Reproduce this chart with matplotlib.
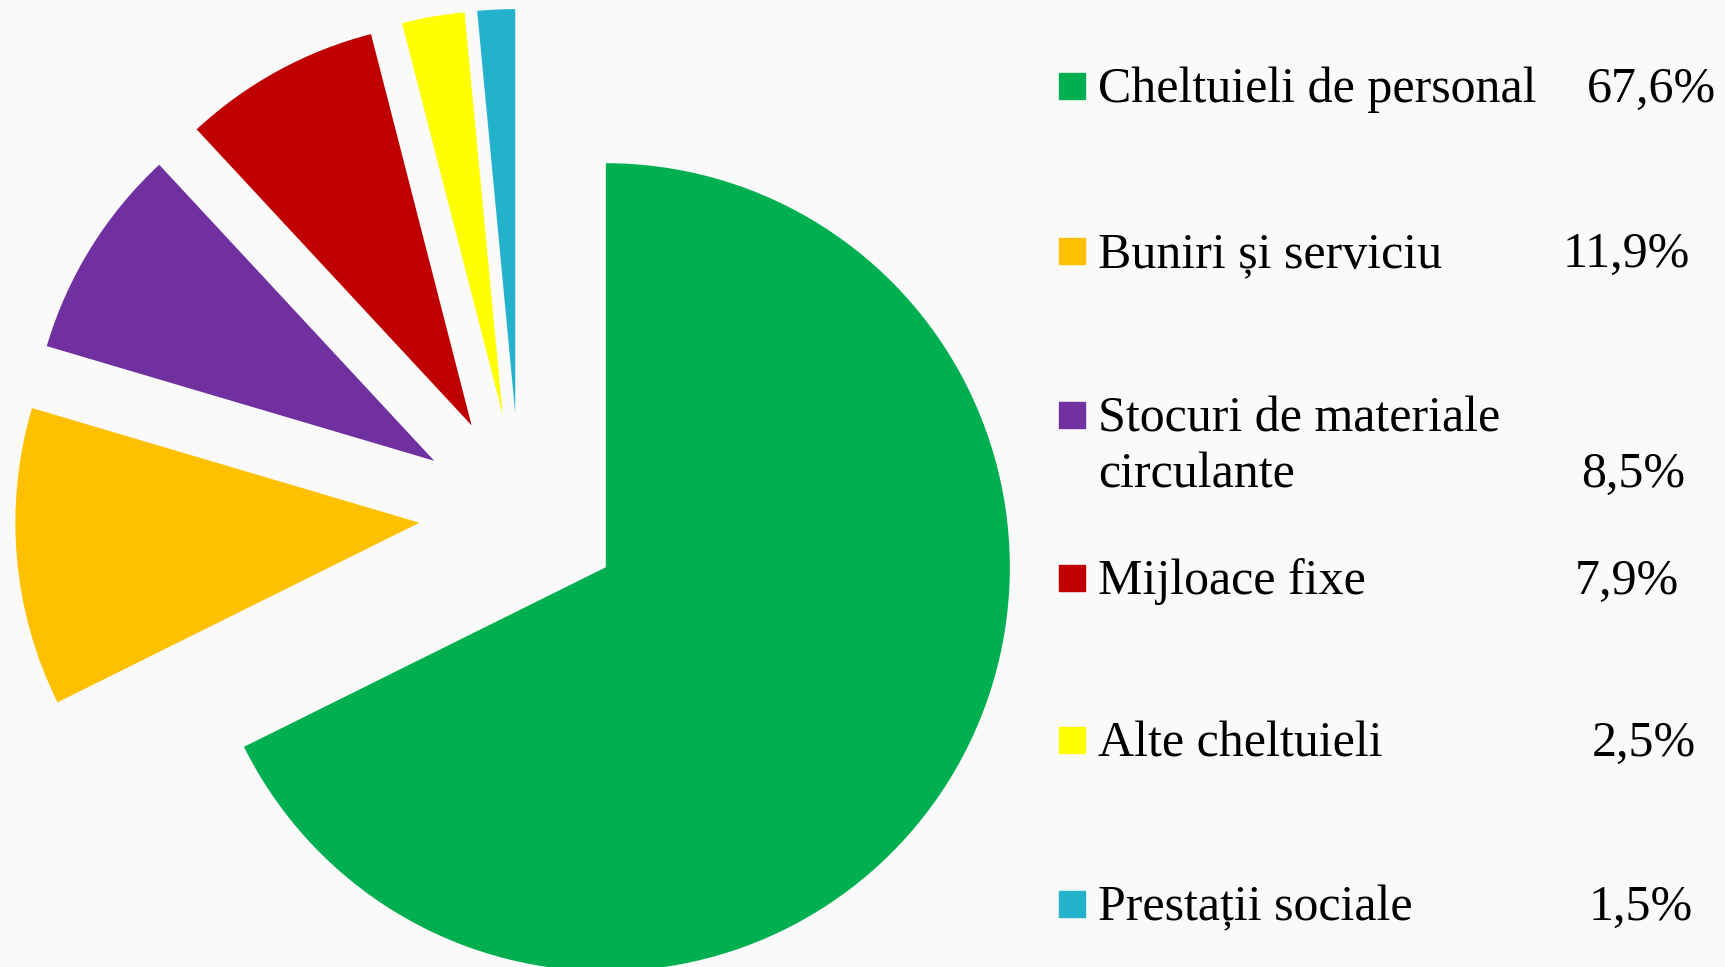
import numpy as np
import matplotlib.pyplot as plt

# Data
labels = ['Cheltuieli de personal', 'Buniri și serviciu', 'Stocuri de materiale\ncirculante',
          'Mijloace fixe', 'Alte cheltuieli', 'Prestații sociale']
values = [67.6, 11.9, 8.5, 7.9, 2.5, 1.5]
colors = ['#00B050', '#FFC000', '#7030A0', '#C00000', '#FFFF00', '#22B2CC']

W, H = 1725, 967
fig = plt.figure(figsize=(W / 100, H / 100), dpi=100)
fig.patch.set_facecolor('#FAFAFA')
ax = fig.add_axes([0, 0, 1, 1])
ax.set_facecolor('#FAFAFA')

# pixel geometry of the pie (center of unexploded pie, radius)
cx, cy, r = 520, 514, 404

ax.pie(values, colors=colors, startangle=90, counterclock=False,
       explode=[0.25] * len(values), wedgeprops=dict(linewidth=0))
ax.set_aspect('auto')
ax.set_xlim(-cx / r, (W - cx) / r)
ax.set_ylim((cy - H) / r, cy / r)
ax.axis('off')

# legend, drawn by hand in figure pixel coords
font = dict(family='Liberation Serif', fontsize=36, color='black')
rows_y = [86, 251, 415, 578, 740, 904]
pct_y = [86, 251, 471, 578, 740, 904]
pct_x = [1587, 1563, 1581, 1575, 1592, 1589]
line_gap = 56
text_drop = 4  # text sits slightly below the square centre
sq = 26
for i, lab in enumerate(labels):
    y = H - rows_y[i]
    fig.patches.append(plt.Rectangle((1059 / W, (y - sq / 2) / H), sq / W, sq / H,
                                     transform=fig.transFigure, color=colors[i], figure=fig))
    for k, line in enumerate(lab.split('\n')):
        fig.text(1098 / W, (y - text_drop - k * line_gap) / H, line, va='center', **font)
    pct = f'{values[i]:.1f}%'.replace('.', ',')
    fig.text(pct_x[i] / W, (H - pct_y[i] - text_drop) / H, pct, va='center', **font)

fig.savefig('out.png', dpi=100, facecolor=fig.get_facecolor())
